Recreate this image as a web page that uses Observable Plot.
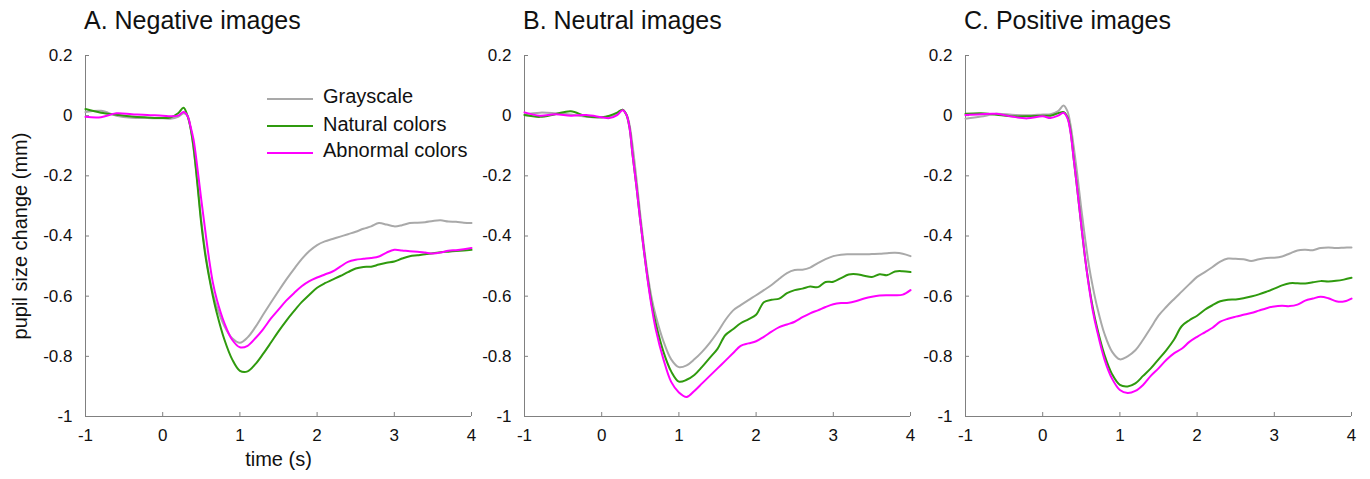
<!DOCTYPE html>
<html><head><meta charset="utf-8">
<script src="https://cdn.jsdelivr.net/npm/d3@7"></script>
<script src="https://cdn.jsdelivr.net/npm/@observablehq/plot@0.6"></script>
<style>
body{margin:0;background:#fff;font-family:"Liberation Sans",Arial,sans-serif;}
#root{position:relative;width:1370px;height:479px;overflow:hidden;background:#fff;}
.title{position:absolute;top:8px;font-size:25px;line-height:1;color:#111;white-space:nowrap;}
.panel{position:absolute;top:0;}
.panel svg{background:transparent !important;overflow:visible;}
.sw{position:absolute;left:267px;width:46px;height:2px;}
.lt{position:absolute;left:323px;font-size:20px;line-height:1;color:#111;white-space:nowrap;}
</style></head>
<body><div id="root"></div>
<script>
// ---- data ----
const times = [-1,-0.8,-0.6,-0.4,-0.2,0,0.1,0.2,0.27,0.32,0.36,0.4,0.45,0.5,0.55,0.6,0.65,0.7,0.8,0.9,1.0,
  1.1,1.2,1.3,1.4,1.5,1.6,1.7,1.8,1.9,2.0,2.1,2.2,2.3,2.4,2.5,2.6,2.7,2.8,2.9,3.0,
  3.1,3.2,3.3,3.4,3.5,3.6,3.7,3.8,3.9,4.0];

const seriesNames = ["Grayscale", "Natural colors", "Abnormal colors"];
const seriesColors = ["#a9a9a9", "#2f9a0e", "#ff00ff"];
const panelTitles = ["A. Negative images", "B. Neutral images", "C. Positive images"];
const xTicks = [-1, 0, 1, 2, 3, 4];
const yTicks = [0.2, 0, -0.2, -0.4, -0.6, -0.8, -1];
const xLabel = "time (s)";
const yLabel = "pupil size change (mm)";

// A. Negative
const negGray = [0.012,0.016,0.0,-0.007,-0.008,-0.009,-0.01,-0.004,0.008,0.0,-0.04,-0.11,-0.22,-0.35,-0.45,-0.53,-0.59,-0.635,-0.70,-0.74,-0.755,
  -0.737,-0.703,-0.662,-0.622,-0.583,-0.545,-0.51,-0.477,-0.45,-0.43,
  -0.418,-0.41,-0.402,-0.394,-0.386,-0.376,-0.368,-0.357,-0.362,-0.368,
  -0.364,-0.357,-0.356,-0.354,-0.35,-0.348,-0.352,-0.353,-0.356,-0.357];
const negGreen = [0.022,0.01,0.003,-0.003,-0.006,-0.008,-0.006,0.008,0.026,0.0,-0.04,-0.105,-0.23,-0.36,-0.46,-0.535,-0.6,-0.655,-0.745,-0.81,-0.848,
  -0.85,-0.826,-0.792,-0.755,-0.717,-0.682,-0.65,-0.62,-0.595,-0.572,
  -0.557,-0.545,-0.533,-0.52,-0.508,-0.503,-0.502,-0.495,-0.489,-0.485,
  -0.475,-0.467,-0.464,-0.461,-0.457,-0.454,-0.452,-0.45,-0.448,-0.446];
const negMagenta = [-0.004,-0.005,0.008,0.005,0.002,0.0,-0.002,0.0,0.012,0.0,-0.035,-0.08,-0.175,-0.28,-0.38,-0.475,-0.555,-0.61,-0.69,-0.745,-0.77,
  -0.765,-0.74,-0.71,-0.675,-0.645,-0.615,-0.59,-0.567,-0.55,-0.538,
  -0.528,-0.518,-0.502,-0.486,-0.479,-0.476,-0.473,-0.468,-0.455,-0.446,
  -0.448,-0.451,-0.452,-0.455,-0.458,-0.455,-0.449,-0.447,-0.444,-0.44];

// B. Neutral
const neuGray = [0.004,0.01,0.008,0.004,-0.004,-0.006,-0.003,0.006,0.02,0.005,-0.03,-0.1,-0.21,-0.33,-0.44,-0.535,-0.61,-0.665,-0.75,-0.81,-0.836,
  -0.83,-0.81,-0.785,-0.755,-0.72,-0.68,-0.648,-0.63,-0.613,-0.597,
  -0.58,-0.563,-0.542,-0.523,-0.513,-0.512,-0.505,-0.49,-0.477,-0.467,
  -0.462,-0.461,-0.461,-0.461,-0.46,-0.459,-0.457,-0.456,-0.459,-0.467];
const neuGreen = [0.002,-0.004,0.005,0.015,-0.002,-0.005,0.0,0.01,0.02,0.003,-0.04,-0.13,-0.235,-0.35,-0.455,-0.55,-0.63,-0.69,-0.785,-0.85,-0.884,
  -0.878,-0.862,-0.835,-0.805,-0.775,-0.73,-0.71,-0.69,-0.677,-0.662,
  -0.62,-0.612,-0.608,-0.59,-0.58,-0.575,-0.568,-0.57,-0.553,-0.552,
  -0.54,-0.528,-0.527,-0.532,-0.536,-0.527,-0.53,-0.518,-0.517,-0.52];
const neuMagenta = [0.011,0.0,0.005,0.0,0.002,-0.005,-0.008,0.002,0.018,0.003,-0.04,-0.13,-0.235,-0.35,-0.455,-0.555,-0.64,-0.71,-0.81,-0.885,-0.92,
  -0.935,-0.915,-0.89,-0.865,-0.84,-0.815,-0.79,-0.765,-0.757,-0.75,
  -0.735,-0.718,-0.703,-0.694,-0.685,-0.67,-0.657,-0.647,-0.636,-0.627,
  -0.623,-0.622,-0.616,-0.608,-0.602,-0.598,-0.597,-0.597,-0.595,-0.58];

// C. Positive
const posGray = [-0.01,-0.003,0.006,0.003,0.001,0.004,0.005,0.015,0.034,0.015,-0.03,-0.1,-0.2,-0.31,-0.41,-0.5,-0.57,-0.63,-0.725,-0.785,-0.81,
  -0.8,-0.78,-0.745,-0.705,-0.665,-0.636,-0.61,-0.585,-0.56,-0.536,
  -0.52,-0.503,-0.485,-0.475,-0.476,-0.477,-0.483,-0.477,-0.473,-0.472,
  -0.468,-0.458,-0.448,-0.446,-0.447,-0.44,-0.438,-0.44,-0.439,-0.438];
const posGreen = [0.006,0.008,0.003,-0.002,-0.002,0.0,0.0,0.008,0.012,-0.005,-0.05,-0.14,-0.25,-0.365,-0.475,-0.565,-0.64,-0.7,-0.795,-0.86,-0.895,
  -0.9,-0.89,-0.865,-0.84,-0.81,-0.78,-0.745,-0.7,-0.68,-0.665,
  -0.645,-0.63,-0.617,-0.612,-0.611,-0.607,-0.601,-0.594,-0.585,-0.575,
  -0.564,-0.557,-0.557,-0.558,-0.554,-0.55,-0.551,-0.549,-0.545,-0.539];
const posMagenta = [0.002,0.005,0.006,-0.003,-0.009,-0.002,-0.008,0.0,0.01,-0.008,-0.055,-0.14,-0.25,-0.365,-0.475,-0.57,-0.65,-0.71,-0.81,-0.875,-0.912,
  -0.922,-0.915,-0.895,-0.865,-0.84,-0.812,-0.79,-0.775,-0.752,-0.735,
  -0.72,-0.705,-0.685,-0.675,-0.668,-0.662,-0.656,-0.648,-0.64,-0.634,
  -0.632,-0.633,-0.628,-0.615,-0.608,-0.602,-0.607,-0.617,-0.618,-0.608];

// ---- layout ----
const root = document.getElementById("root");
const axisColor = "#808080";
const textColor = "#111";
const panels = [
  {vals: [negGray, negGreen, negMagenta], left: 0, width: 480, ml: 85, mr: 9, labels: true},
  {vals: [neuGray, neuGreen, neuMagenta], left: 480, width: 440, ml: 44, mr: 10, labels: false},
  {vals: [posGray, posGreen, posMagenta], left: 920, width: 450, ml: 45, mr: 19, labels: false}
];

panels.forEach((p, i) => {
  const data = [];
  seriesNames.forEach((s, k) => p.vals[k].forEach((v, j) => data.push({t: times[j], v, s})));
  const marks = [
    Plot.ruleX([xTicks[0]], {stroke: axisColor, strokeWidth: 1}),
    Plot.ruleY([yTicks[yTicks.length - 1]], {stroke: axisColor, strokeWidth: 1}),
    Plot.axisX(xTicks, {tickSize: -4, tickPadding: 16, stroke: axisColor, color: textColor, fontSize: 17, tickFormat: d => String(d), label: null}),
    Plot.axisY(yTicks, {tickSize: -4, tickPadding: 17, stroke: axisColor, color: textColor, fontSize: 17, tickFormat: d => String(d), label: null}),
    Plot.line(data, {x: "t", y: "v", stroke: "s", z: "s", curve: "catmull-rom", strokeWidth: 2})
  ];
  if (p.labels) {
    marks.push(Plot.text([xLabel], {text: d => d, frameAnchor: "bottom", textAnchor: "middle", dy: 49, fontSize: 20, fill: textColor}));
    marks.push(Plot.text([yLabel], {text: d => d, frameAnchor: "left", textAnchor: "middle", dx: -65, rotate: -90, fontSize: 20, fill: textColor}));
  }
  const svg = Plot.plot({
    width: p.width, height: 479,
    marginLeft: p.ml, marginRight: p.mr, marginTop: 55, marginBottom: 63,
    style: {fontFamily: "'Liberation Sans', Arial, sans-serif", fontSize: "17px", background: "transparent", overflow: "visible"},
    x: {domain: [xTicks[0], xTicks[xTicks.length - 1]]},
    y: {domain: [yTicks[yTicks.length - 1], yTicks[0]]},
    color: {domain: seriesNames, range: seriesColors},
    marks
  });
  const wrap = document.createElement("div");
  wrap.className = "panel";
  wrap.style.left = p.left + "px";
  wrap.appendChild(svg);
  root.appendChild(wrap);

  const t = document.createElement("div");
  t.className = "title";
  t.style.left = (p.left + p.ml - 1) + "px";
  t.textContent = panelTitles[i];
  root.appendChild(t);
});

// legend inside panel A
const legendY = [98.5, 126, 152.5];
seriesNames.forEach((s, k) => {
  const sw = document.createElement("div");
  sw.className = "sw";
  sw.style.top = (legendY[k] - 1) + "px";
  sw.style.background = seriesColors[k];
  root.appendChild(sw);
  const lt = document.createElement("div");
  lt.className = "lt";
  lt.style.top = (legendY[k] - 12.4) + "px";
  lt.textContent = s;
  root.appendChild(lt);
});
</script>
</body></html>
